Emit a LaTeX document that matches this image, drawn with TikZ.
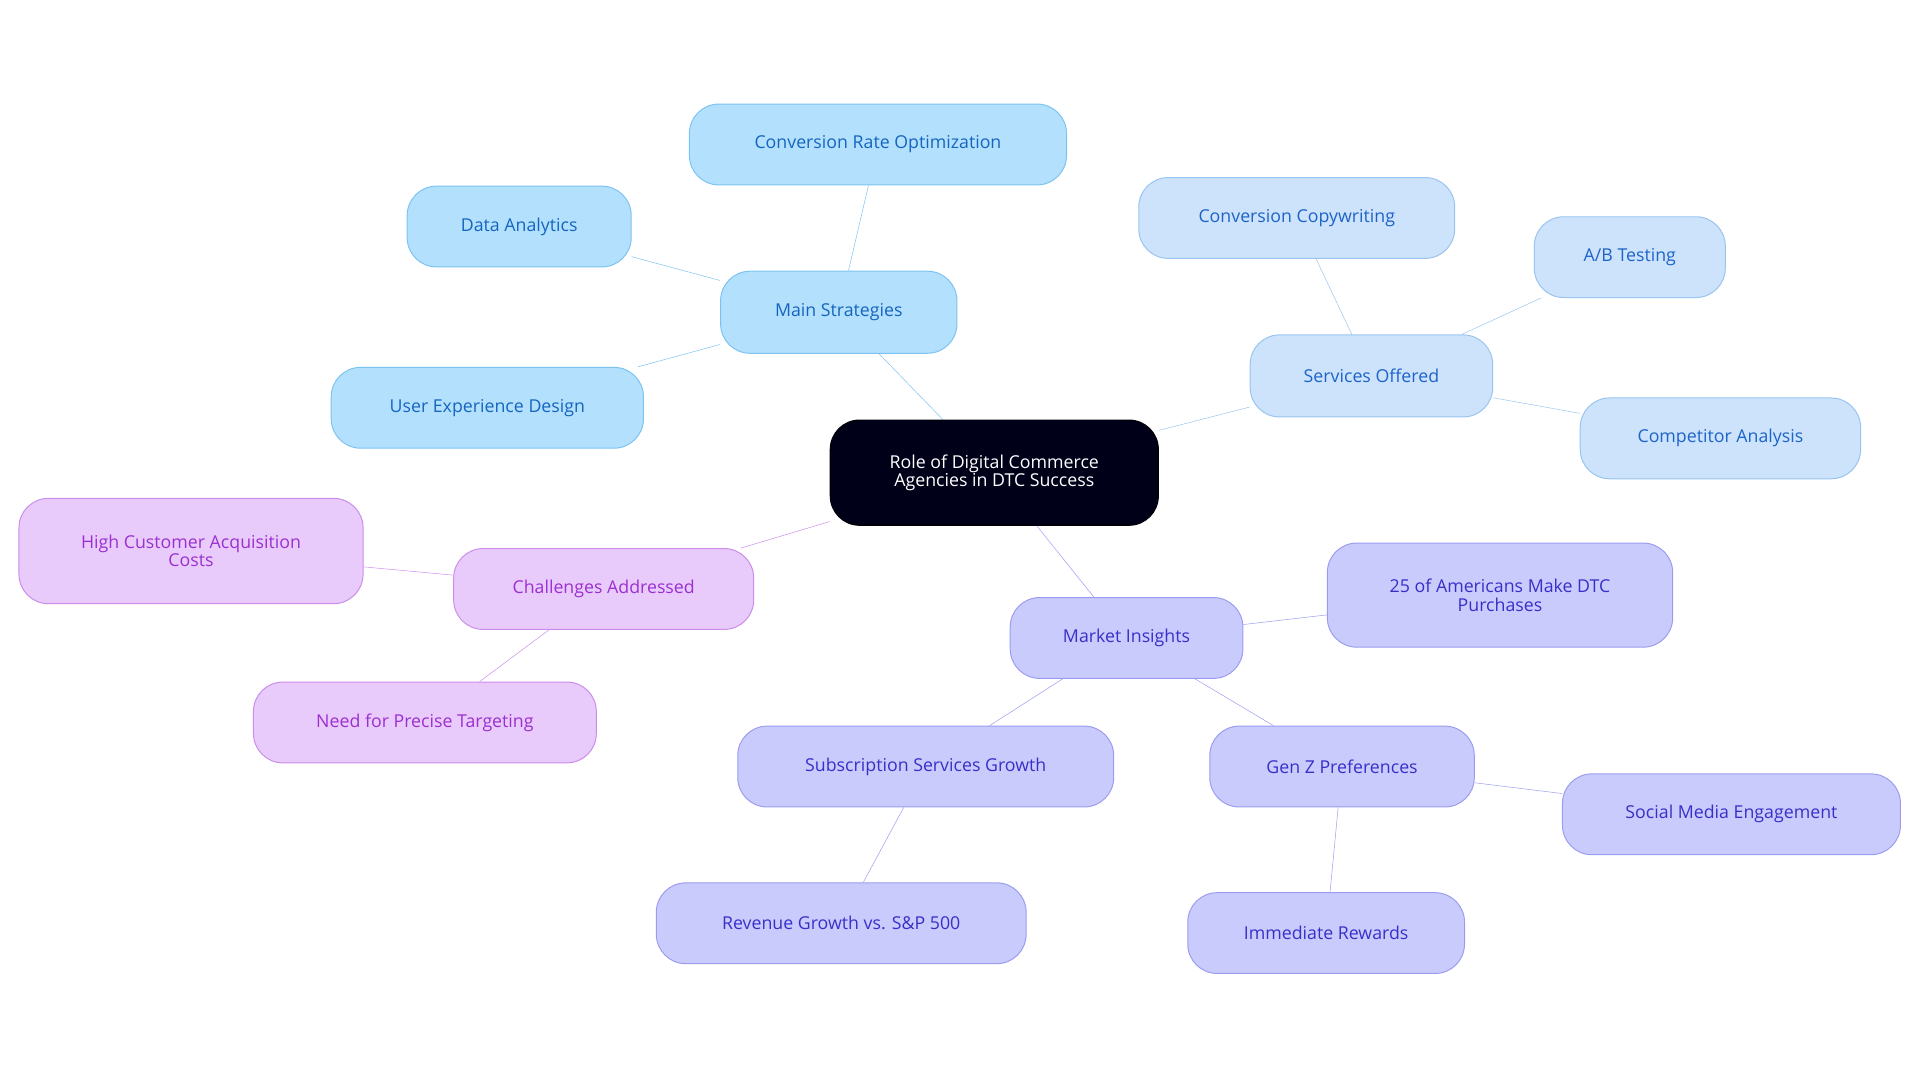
\documentclass[tikz,border=0pt]{standalone}
\usepackage{fontspec}
\setmainfont{Open Sans}
\usetikzlibrary{backgrounds}
\begin{document}
\begin{tikzpicture}[x=1pt,y=-1pt,
  box/.style={draw,line width=0.8pt,rounded corners=24pt,font=\fontsize{14.5}{15}\selectfont,align=center,inner sep=0pt},
  sz/.style 2 args={minimum width=#1pt,minimum height=#2pt},
  blu/.style={box,fill=blue1,draw=blue1d,text=blue1t},
  lbl/.style={box,fill=blue2,draw=blue2d,text=blue2t},
  pur/.style={box,fill=pur1,draw=pur1d,text=pur1t},
  vio/.style={box,fill=vio1,draw=vio1d,text=vio1t},
  ln/.style={line width=2pt}]
\definecolor{blue1}{HTML}{B3E0FD}\definecolor{blue1d}{HTML}{7CC3F2}\definecolor{blue1t}{HTML}{1565C0}
\definecolor{blue2}{HTML}{CCE3FB}\definecolor{blue2d}{HTML}{99C4F0}\definecolor{blue2t}{HTML}{1E63C9}
\definecolor{pur1}{HTML}{E9CBFB}\definecolor{pur1d}{HTML}{CC8CEB}\definecolor{pur1t}{HTML}{9B30D0}
\definecolor{vio1}{HTML}{CACBFD}\definecolor{vio1d}{HTML}{9B9CF0}\definecolor{vio1t}{HTML}{3730C8}
\useasboundingbox (0,0) rectangle (1568,884);
\node[blu,sz={193}{67}] (ms) at (685,255) {Main Strategies};
\node[blu,sz={308}{66}] (cro) at (717,118) {Conversion Rate Optimization};
\node[blu,sz={183}{66}] (da) at (424,185) {Data Analytics};
\node[blu,sz={255}{66}] (ux) at (398,333) {User Experience Design};
\node[lbl,sz={198}{67}] (so) at (1120,307) {Services Offered};
\node[lbl,sz={258}{66}] (cc) at (1059,178) {Conversion Copywriting};
\node[lbl,sz={156}{66}] (ab) at (1331,210) {A/B Testing};
\node[lbl,sz={229}{66}] (ca) at (1405,358) {Competitor Analysis};
\node[pur,sz={245}{66}] (ch) at (493,481) {Challenges Addressed};
\node[pur,sz={281}{86}] (hc) at (156,450) {High Customer Acquisition\\Costs};
\node[pur,sz={280}{66}] (np) at (347,590) {Need for Precise Targeting};
\node[vio,sz={190}{66}] (mi) at (920,521) {Market Insights};
\node[vio,sz={282}{85}] (am) at (1225,486) {25 of Americans Make DTC\\Purchases};
\node[vio,sz={307}{66}] (ss) at (756,626) {Subscription Services Growth};
\node[vio,sz={302}{66}] (rg) at (687,754) {Revenue Growth vs. S\&P 500};
\node[vio,sz={216}{66}] (gz) at (1096,626) {Gen Z Preferences};
\node[vio,sz={276}{66}] (sm) at (1414,665) {Social Media Engagement};
\node[vio,sz={226}{66}] (ir) at (1083,762) {Immediate Rewards};
\node[box,fill=black!90!blue,draw=black,text=white,sz={268}{86}] (root) at (812,386) {Role of Digital Commerce\\Agencies in DTC Success};
\begin{scope}[on background layer,ln]
\fill[white] (0,0) rectangle (1568,884);
\draw[blue1d] (root) -- (ms); \draw[blue1d] (ms) -- (cro); \draw[blue1d] (ms) -- (da); \draw[blue1d] (ms) -- (ux);
\draw[blue2d] (root) -- (so); \draw[blue2d] (so) -- (cc); \draw[blue2d] (so) -- (ab); \draw[blue2d] (so) -- (ca);
\draw[pur1d] (root) -- (ch); \draw[pur1d] (ch) -- (hc); \draw[pur1d] (ch) -- (np);
\draw[vio1d] (root) -- (mi); \draw[vio1d] (mi) -- (am); \draw[vio1d] (mi) -- (ss); \draw[vio1d] (ss) -- (rg);
\draw[vio1d] (mi) -- (gz); \draw[vio1d] (gz) -- (sm); \draw[vio1d] (gz) -- (ir);
\end{scope}
\end{tikzpicture}
\end{document}
